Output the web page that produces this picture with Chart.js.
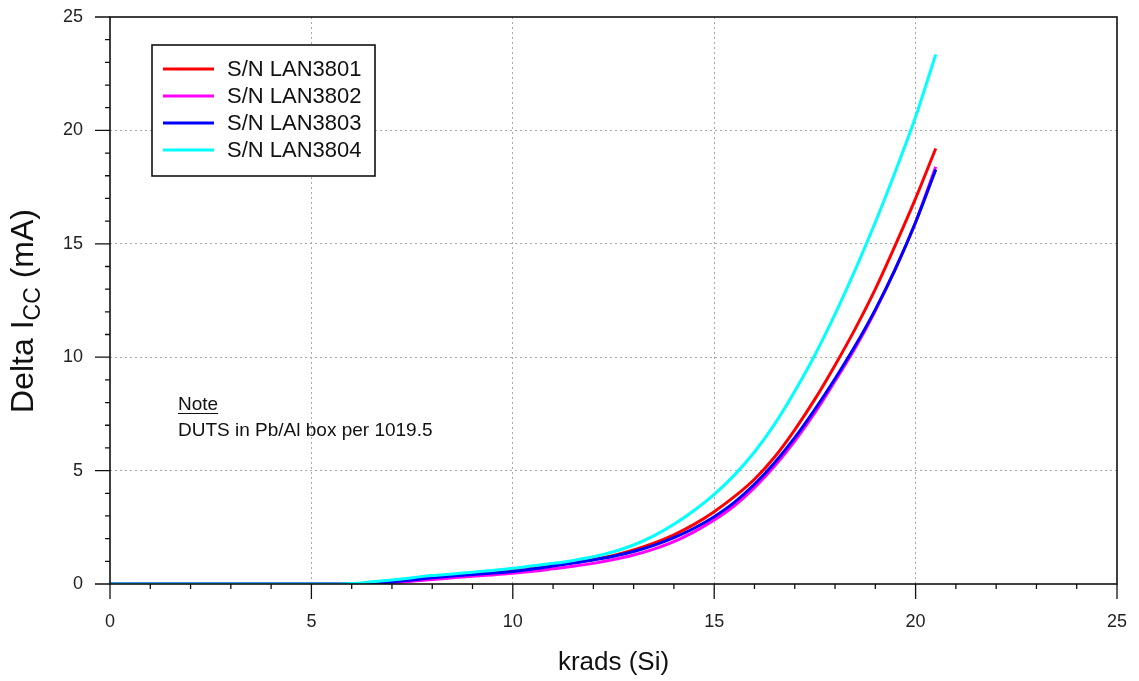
<!DOCTYPE html>
<html>
<head>
<meta charset="utf-8">
<script src="https://cdn.jsdelivr.net/npm/chart.js@4/dist/chart.umd.min.js"></script>
<style>
  html, body { margin: 0; padding: 0; background: #fff; }
  #wrap { width: 1139px; height: 681px; }
</style>
</head>
<body>
<div id="wrap"><canvas id="chart" width="1139" height="681"></canvas></div>
<script>
// dose points (krads Si)
const krads = [0, 1, 2, 3, 4, 5,
  5.5, 6, 6.5, 7, 7.5, 8, 8.5, 9, 9.5, 10,
  10.5, 11, 11.5, 12, 12.5, 13, 13.5, 14, 14.5, 15,
  15.5, 16, 16.5, 17, 17.5, 18, 18.5, 19, 19.5, 20,
  20.5];

// delta Icc (mA) per serial number
const lan3801 = [0, 0, 0, 0, 0, 0,
  0, 0, 0.04, 0.1, 0.2, 0.3, 0.38, 0.45, 0.52, 0.6,
  0.71, 0.83, 0.95, 1.08, 1.26, 1.5, 1.8, 2.17, 2.63, 3.19,
  3.85, 4.62, 5.6, 6.8, 8.15, 9.65, 11.25, 13.0, 14.95, 17.0,
  19.2];
const lan3802 = [0, 0, 0, 0, 0, 0,
  0, 0, 0.02, 0.06, 0.12, 0.2, 0.27, 0.34, 0.4, 0.47,
  0.56, 0.67, 0.78, 0.91, 1.08, 1.28, 1.54, 1.87, 2.3, 2.82,
  3.45, 4.25, 5.2, 6.3, 7.55, 8.95, 10.4, 12.05, 13.9, 15.95,
  18.4];
const lan3803 = [0, 0, 0, 0, 0, 0,
  0, 0, 0.04, 0.09, 0.18, 0.27, 0.35, 0.42, 0.48, 0.55,
  0.66, 0.79, 0.92, 1.06, 1.22, 1.43, 1.7, 2.04, 2.46, 2.97,
  3.6, 4.4, 5.35, 6.45, 7.7, 9.05, 10.5, 12.1, 13.9, 15.95,
  18.27];
const lan3804 = [0, 0, 0, 0, 0, 0,
  0, 0.02, 0.1, 0.18, 0.28, 0.37, 0.44, 0.52, 0.6, 0.69,
  0.8, 0.91, 1.04, 1.2, 1.42, 1.72, 2.12, 2.63, 3.24, 3.95,
  4.8, 5.82, 7.05, 8.5, 10.1, 11.9, 13.85, 15.95, 18.2, 20.6,
  23.35];

const seriesNames = ["S/N LAN3801", "S/N LAN3802", "S/N LAN3803", "S/N LAN3804"];
const seriesColors = ["#ff0000", "#ff00ff", "#0000ff", "#00ffff"];
const seriesValues = [lan3801, lan3802, lan3803, lan3804];

const xTicks = [0, 5, 10, 15, 20, 25];
const yTicks = [0, 5, 10, 15, 20, 25];
const noteTitle = "Note";
const noteText = "DUTS in Pb/Al box per 1019.5";

const FONT = 'Arial, "Liberation Sans", sans-serif';

function toPoints(vals) {
  return vals.map((v, i) => ({ x: krads[i], y: v }));
}

const datasets = seriesValues.map((vals, i) => ({
  label: seriesNames[i],
  data: toPoints(vals),
  borderColor: seriesColors[i],
  backgroundColor: seriesColors[i],
  borderWidth: 3,
  pointRadius: 0,
  showLine: true,
  cubicInterpolationMode: "monotone",
  order: 4 - i   // cyan on top, red at the bottom
}));

// frame, outward ticks (major + minor), legend box, note, axis titles
const decorations = {
  id: "decorations",
  afterDraw(chart) {
    const ctx = chart.ctx;
    const a = chart.chartArea;
    const xs = chart.scales.x, ys = chart.scales.y;
    ctx.save();

    // frame
    ctx.strokeStyle = "#111";
    ctx.lineWidth = 1.6;
    ctx.strokeRect(a.left, a.top, a.right - a.left, a.bottom - a.top);

    // ticks
    ctx.lineWidth = 1.3;
    ctx.beginPath();
    for (let v = 0; v <= 25; v++) {
      const len = v % 5 === 0 ? 15 : 5;
      const px = xs.getPixelForValue(v);
      ctx.moveTo(px, a.bottom);
      ctx.lineTo(px, a.bottom + len);
      const py = ys.getPixelForValue(v);
      ctx.moveTo(a.left, py);
      ctx.lineTo(a.left - len, py);
    }
    ctx.stroke();

    // legend
    const lx = 152, ly = 45, lw = 223, lh = 131;
    ctx.fillStyle = "#fff";
    ctx.fillRect(lx, ly, lw, lh);
    ctx.strokeStyle = "#111";
    ctx.lineWidth = 1.6;
    ctx.strokeRect(lx, ly, lw, lh);
    ctx.font = "22px " + FONT;
    ctx.textBaseline = "middle";
    ctx.textAlign = "left";
    chart.data.datasets.forEach((ds, i) => {
      const ry = 69 + i * 27;
      ctx.strokeStyle = ds.borderColor;
      ctx.lineWidth = 3;
      ctx.beginPath();
      ctx.moveTo(163, ry);
      ctx.lineTo(214, ry);
      ctx.stroke();
      ctx.fillStyle = "#111";
      ctx.fillText(ds.label, 227, ry + 1);
    });

    // note
    ctx.fillStyle = "#111";
    ctx.font = "19px " + FONT;
    ctx.textBaseline = "alphabetic";
    ctx.fillText(noteTitle, 178, 410);
    const nw = ctx.measureText(noteTitle).width;
    ctx.strokeStyle = "#111";
    ctx.lineWidth = 1.2;
    ctx.beginPath();
    ctx.moveTo(178, 413.5);
    ctx.lineTo(178 + nw, 413.5);
    ctx.stroke();
    ctx.fillText(noteText, 178, 436);

    // x title
    ctx.font = "26px " + FONT;
    ctx.textAlign = "center";
    ctx.textBaseline = "middle";
    ctx.fillStyle = "#111";
    ctx.fillText("krads (Si)", (a.left + a.right) / 2, 663);

    // y title with subscript
    ctx.save();
    ctx.translate(33, 311);
    ctx.rotate(-Math.PI / 2);
    ctx.textAlign = "left";
    ctx.textBaseline = "alphabetic";
    const big = "32px " + FONT, small = "23px " + FONT;
    const parts = [["Delta I", big, 0], ["CC", small, 7], [" (mA)", big, 0]];
    let total = 0;
    parts.forEach(p => { ctx.font = p[1]; total += ctx.measureText(p[0]).width; });
    let cx = -total / 2;
    parts.forEach(p => {
      ctx.font = p[1];
      ctx.fillText(p[0], cx, p[2]);
      cx += ctx.measureText(p[0]).width;
    });
    ctx.restore();

    ctx.restore();
  }
};

const gridColor = (c) => (c.tick && (c.tick.value === 0 || c.tick.value === 25)) ? "rgba(0,0,0,0)" : "#a8a8a8";

new Chart(document.getElementById("chart"), {
  type: "scatter",
  data: { datasets: datasets },
  options: {
    responsive: false,
    animation: false,
    devicePixelRatio: 1,
    layout: { padding: { left: 0, top: 17, right: 22, bottom: 0 } },
    plugins: { legend: { display: false }, tooltip: { enabled: false } },
    scales: {
      x: {
        type: "linear",
        min: 0, max: 25,
        afterBuildTicks: (s) => { s.ticks = xTicks.map(v => ({ value: v })); },
        afterFit: (s) => { s.height = 97; s.paddingLeft = 0; s.paddingRight = 0; },
        grid: { color: gridColor, lineWidth: 1, drawTicks: false },
        border: { display: false, dash: [2, 3] },
        ticks: { padding: 27, color: "#222", font: { size: 18, family: FONT } }
      },
      y: {
        type: "linear",
        min: 0, max: 25,
        afterBuildTicks: (s) => { s.ticks = yTicks.map(v => ({ value: v })); },
        afterFit: (s) => { s.width = 110; s.paddingTop = 0; s.paddingBottom = 0; },
        grid: { color: gridColor, lineWidth: 1, drawTicks: false },
        border: { display: false, dash: [2, 3] },
        ticks: { padding: 27, color: "#222", font: { size: 18, family: FONT } }
      }
    }
  },
  plugins: [decorations]
});
</script>
</body>
</html>
